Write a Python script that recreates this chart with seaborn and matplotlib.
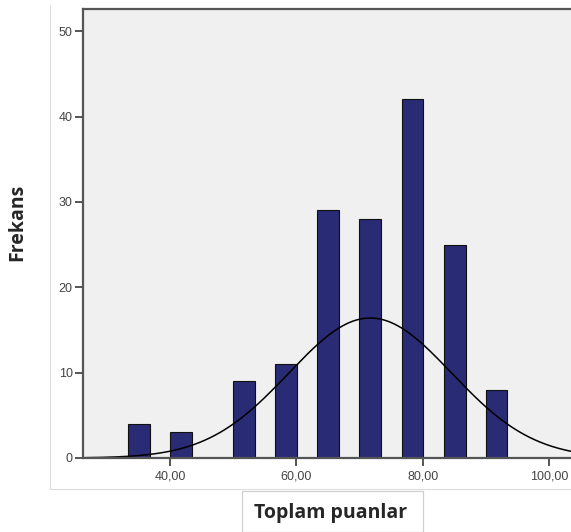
import matplotlib
matplotlib.use("Agg")
import matplotlib.pyplot as plt
import matplotlib.ticker as mticker
from matplotlib.lines import Line2D
from matplotlib.patches import Rectangle
import numpy as np
import pandas as pd
import seaborn as sns

# ── data ────────────────────────────────────────────────────────────────────
bin_centers = [35.05, 41.74, 51.7, 58.4, 65.0, 71.6, 78.4, 85.1, 91.7]
frequencies = [4, 3, 9, 11, 29, 28, 42, 25, 8]

# normal curve overlay (as drawn by SPSS)
curve_mean = 71.7
curve_sd = 12.9
curve_peak = 16.4

x_ticks = [40, 60, 80, 100]
y_ticks = [0, 10, 20, 30, 40, 50]

x_label = "Toplam puanlar"
y_label = "Frekans"

BAR_COLOR = "#292b74"
BG_COLOR = "#f0f0f0"
SPINE_COLOR = "#555555"

# ── figure ──────────────────────────────────────────────────────────────────
sns.set_style("white")
plt.rcParams["font.family"] = ["Liberation Sans", "DejaVu Sans"]

fig = plt.figure(figsize=(5.71, 5.32), dpi=100)
ax = fig.add_axes([83 / 571, 74 / 532, 488 / 571, 449 / 532])
ax.set_facecolor(BG_COLOR)

df = pd.DataFrame({"x": bin_centers, "freq": frequencies})
bar_w = 3.45 / np.diff(sorted(bin_centers)).min()
sns.barplot(data=df, x="x", y="freq", native_scale=True, width=bar_w,
            color=BAR_COLOR, saturation=1, edgecolor="#111111",
            linewidth=0.8, ax=ax)

xs = np.linspace(26, 104, 400)
curve = pd.DataFrame({
    "x": xs,
    "y": curve_peak * np.exp(-0.5 * ((xs - curve_mean) / curve_sd) ** 2),
})
sns.lineplot(data=curve, x="x", y="y", color="black", linewidth=1.1, ax=ax)

ax.set_xlim(26.2, 103.5)
ax.set_ylim(0, 52.6)
ax.set_xticks(x_ticks)
ax.set_yticks(y_ticks)
ax.xaxis.set_major_formatter(mticker.FuncFormatter(lambda v, p: f"{v:.2f}".replace(".", ",")))
ax.yaxis.set_major_formatter(mticker.FuncFormatter(lambda v, p: f"{int(v)}"))
ax.tick_params(axis="both", direction="out", length=6, width=1.4,
               color=SPINE_COLOR, labelsize=9, labelcolor="#444444", pad=1.5,
               bottom=True, left=True)
ax.tick_params(axis="x", pad=3)
ax.set_xlabel("")
ax.set_ylabel("")

for side in ["left", "top", "bottom"]:
    ax.spines[side].set_color(SPINE_COLOR)
    ax.spines[side].set_linewidth(1.6)
ax.spines["right"].set_visible(False)

# outer chart frame (light grey)
fig.add_artist(Line2D([50 / 571, 50 / 571], [1 - 5 / 532, 1 - 489 / 532],
                      transform=fig.transFigure, color="#dddddd", linewidth=0.8))
fig.add_artist(Line2D([50 / 571, 1.0], [1 - 489 / 532, 1 - 489 / 532],
                      transform=fig.transFigure, color="#dddddd", linewidth=0.8))

# axis titles
fig.text(331 / 571, 1 - 513 / 532, x_label, ha="center", va="center",
         fontsize=14, fontweight="bold", family=["Open Sans", "DejaVu Sans"])
fig.add_artist(Rectangle((242 / 571, 0.0), 181 / 571, 41 / 532,
                         transform=fig.transFigure, fill=False,
                         edgecolor="#d0d0d0", linewidth=0.9))
fig.text(17 / 571, 1 - 222 / 532, y_label, ha="center", va="center",
         rotation=90, fontsize=14, fontweight="bold",
         family=["Open Sans", "DejaVu Sans"])

fig.savefig("out.png", dpi=100)
